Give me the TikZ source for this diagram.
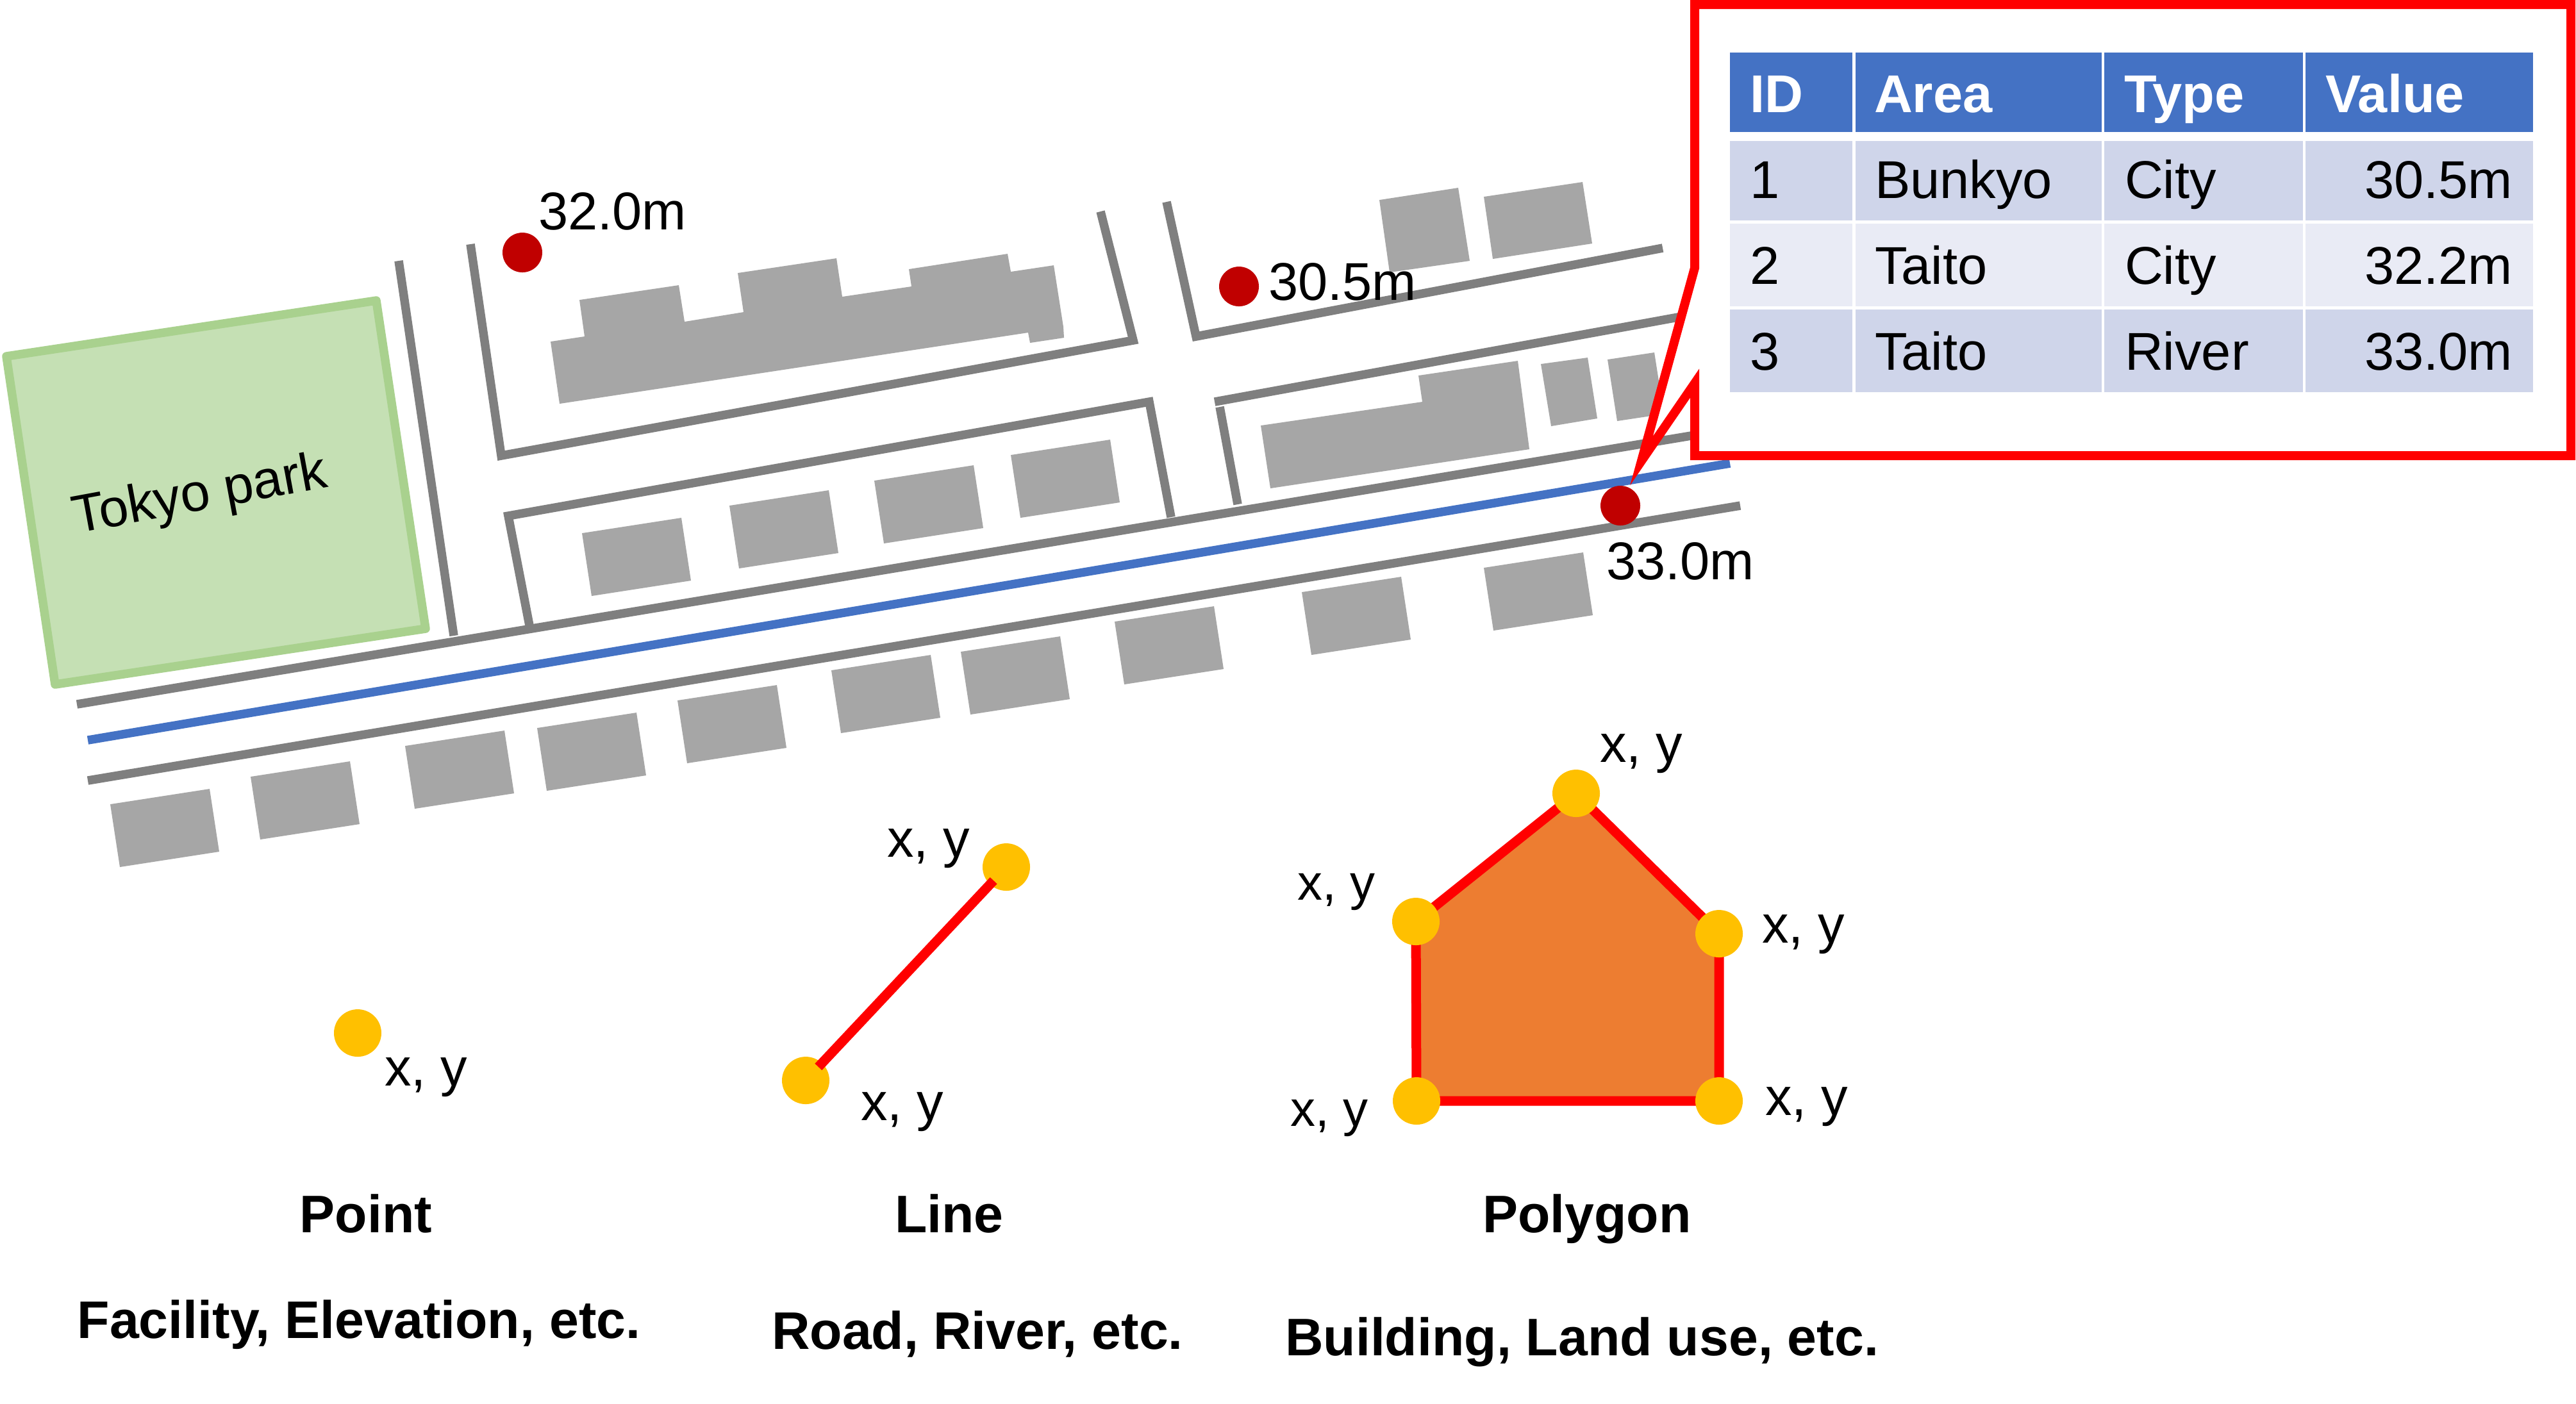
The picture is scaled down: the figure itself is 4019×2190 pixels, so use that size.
\documentclass[tikz,border=0pt]{standalone}
\usepackage{fontspec}
\setmainfont{Liberation Sans}
\definecolor{roadgray}{HTML}{7F7F7F}
\definecolor{bldggray}{HTML}{A6A6A6}
\definecolor{parkfill}{HTML}{C5E0B4}
\definecolor{parkline}{HTML}{A9D18E}
\definecolor{riverblue}{HTML}{4472C4}
\definecolor{rowdark}{HTML}{CFD5EA}
\definecolor{rowlight}{HTML}{E9EBF5}
\definecolor{sitered}{HTML}{C00000}
\definecolor{vertexyellow}{HTML}{FFC000}
\definecolor{polyorange}{HTML}{ED7D31}

\begin{document}
\begin{tikzpicture}
    [x=0.1pt,y=-0.1pt,
    road/.style={draw=roadgray,line width=1.35pt},
    bldg/.style={fill=bldggray},
    site/.style={circle,fill=sitered,inner sep=0pt,minimum size=6.2pt},
    vertex/.style={circle,fill=vertexyellow,inner sep=0pt,outer sep=0pt,minimum size=7.4pt},
    edge/.style={draw=red,line width=1.5pt},
    txt/.style={anchor=base west,inner sep=0pt,font=\fontsize{8.3}{10}\selectfont},
    xy/.style={anchor=base west,inner sep=0pt,font=\fontsize{8.3}{10}\selectfont},
    xysmall/.style={anchor=base west,inner sep=0pt,font=\fontsize{7.8}{10}\selectfont},
    title/.style={anchor=base,inner sep=0pt,font=\fontsize{8.25}{10}\selectfont\bfseries},
    cell/.style={anchor=base west,inner sep=0pt,font=\fontsize{8.3}{10}\selectfont},
    hcell/.style={cell,text=white,font=\fontsize{8.3}{10}\selectfont\bfseries}]
    \useasboundingbox (0,0) rectangle (4019,2190);
    \fill[white] (0,0) rectangle (4019,2190);

    \draw[line width=1.35pt,draw=parkline,fill=parkfill,line join=round]
        (10,556) -- (587,469) -- (664,981) -- (86,1068) -- cycle;
    \node[txt,anchor=center,rotate=10.5] (park) at (312,775) {Tokyo park};

    \draw[road] (120,1099) -- (2680,673);
    \draw[draw=riverblue,line width=1.35pt] (137,1155) -- (2699,723);
    \draw[road] (137,1218) -- (2715,789);
    \draw[road] (622,407) -- (708,992);
    \draw[road] (734,381) -- (782,711) -- (1768,531) -- (1717,330);
    \draw[road] (1820,315) -- (1866,525) -- (2594,387);
    \draw[road] (826,976) -- (793,805) -- (1793,627) -- (1827,807);
    \draw[road] (1895,627) -- (2700,480);
    \draw[road] (1903,635) -- (1931,787);

    \foreach \x/\y in {172/1255,391/1212,632/1164,838/1136,1057/1093,1297/1046,
        1499/1017,1739/970,2031/924,2315/886,908/832,1138/789,1364/750,1577/710}
        \fill[bldg] (\x,\y) -- ++(155,-24) -- ++(15,98) -- ++(-155,24) -- cycle;
    \fill[bldg] (2152,312) -- (2275,293) -- (2293,407) -- (2168,425) -- cycle;
    \fill[bldg] (2315,307) -- (2469,284) -- (2484,380) -- (2329,404) -- cycle;
    \fill[bldg] (2404,568) -- (2477,558) -- (2492,653) -- (2420,665) -- cycle;
    \fill[bldg] (2508,561) -- (2581,550) -- (2596,646) -- (2523,657) -- cycle;
    \fill[bldg] (859,533) -- (912,525) -- (904,468) -- (1059,445) -- (1068,502)
        -- (1160,487) -- (1151,426) -- (1305,403) -- (1314,463) -- (1422,447)
        -- (1418,420) -- (1572,396) -- (1577,424) -- (1644,414) -- (1659,510)
        -- (1660,527) -- (1607,535) -- (1604,519) -- (873,630) -- cycle;
    \fill[bldg] (1967,664) -- (2219,627) -- (2213,586) -- (2368,563) -- (2386,701)
        -- (1982,762) -- cycle;

    \draw[draw=red,fill=white,line width=1.4pt,miter limit=10]
        (2644,7) -- (4011,7) -- (4011,711) -- (2644,711) -- (2644,598)
        -- (2561,719) -- (2644,418) -- cycle;

    \foreach \xa/\xb in {2699/2890,2895/3279,3283/3593,3597/3952}
        \fill[riverblue] (\xa,82) rectangle (\xb,206);
    \foreach \ya/\yb/\shade in {220/344/rowdark,349/478/rowlight,483/612/rowdark}
        \foreach \xa/\xb in {2699/2890,2895/3279,3283/3593,3597/3952}
            \fill[\shade] (\xa,\ya) rectangle (\xb,\yb);

    \node[hcell] (hid) at (2728,175) {ID};
    \node[hcell] (harea) at (2922,175) {Area};
    \node[hcell] (htype) at (3312,175) {Type};
    \node[hcell] (hval) at (3626,175) {Value};
    \foreach \i/\yb/\area/\type/\val in {1/309/Bunkyo/City/30.5m,2/443/Taito/City/32.2m,3/577/Taito/River/33.0m}
    {
        \node[cell] (id\i) at (2728,\yb) {\i};
        \node[cell] (area\i) at (2923,\yb) {\area};
        \node[cell] (type\i) at (3313,\yb) {\type};
        \node[cell,anchor=base east] (val\i) at (3922,\yb) {\val};
    }

    \node[site] (s1) at (815,394) {};
    \node[txt] (s1lab) at (838,358) {32.0m};
    \node[site] (s2) at (1933,447) {};
    \node[txt] (s2lab) at (1977,468) {30.5m};
    \node[site] (s3) at (2528,789) {};
    \node[txt] (s3lab) at (2504,904) {33.0m};

    \node[vertex] (p) at (558,1612) {};
    \node[xy] (plab) at (598,1694) {x, y};

    \node[vertex] (l1) at (1257,1686) {};
    \node[vertex] (l2) at (1570,1353) {};
    \draw[edge,shorten <=-0.8pt,shorten >=-0.8pt] (l1) -- (l2);
    \node[xy] (l1lab) at (1341,1748) {x, y};
    \node[xy] (l2lab) at (1382,1337) {x, y};

    \coordinate (a) at (2459,1238);
    \coordinate (b) at (2682,1457);
    \coordinate (c) at (2682,1718);
    \coordinate (d) at (2210,1718);
    \coordinate (e) at (2209,1438);
    \draw[edge,fill=polyorange] (a) -- (b) -- (c) -- (d) -- (e) -- cycle;
    \node[vertex] (va) at (a) {};
    \node[vertex] (vb) at (b) {};
    \node[vertex] (vc) at (c) {};
    \node[vertex] (vd) at (d) {};
    \node[vertex] (ve) at (e) {};
    \node[xy] (valab) at (2494,1189) {x, y};
    \node[xy] (vblab) at (2747,1471) {x, y};
    \node[xy] (vclab) at (2752,1740) {x, y};
    \node[xysmall] (vdlab) at (2011,1757) {x, y};
    \node[xysmall] (velab) at (2022,1404) {x, y};

    \node[title] (tpoint) at (571,1923) {Point};
    \node[title] (tline) at (1481,1923) {Line};
    \node[title] (tpoly) at (2476,1923) {Polygon};
    \node[title] (upoint) at (560,2088) {Facility, Elevation, etc.};
    \node[title] (uline) at (1525,2105) {Road, River, etc.};
    \node[title] (upoly) at (2468,2115) {Building, Land use, etc.};
\end{tikzpicture}
\end{document}
